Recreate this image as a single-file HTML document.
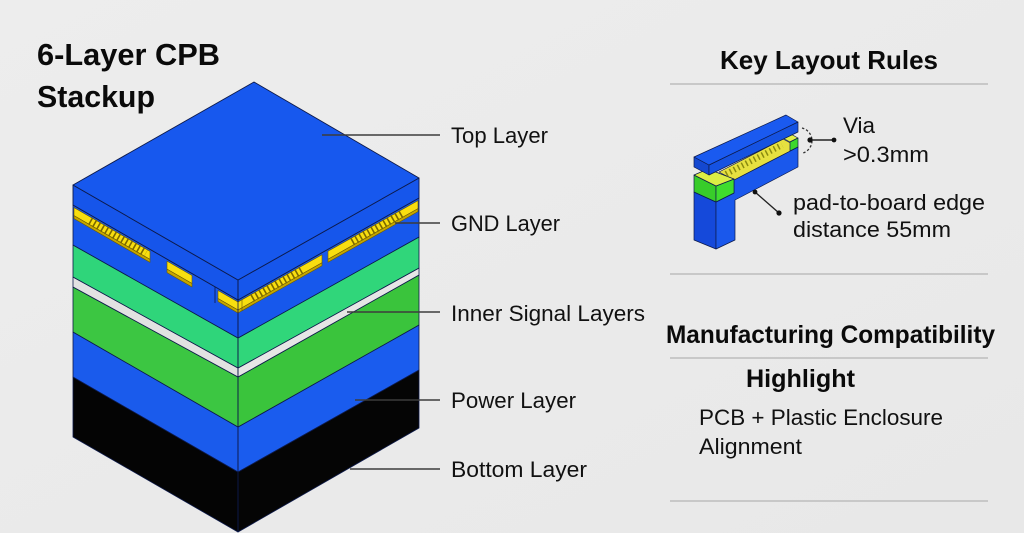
<!DOCTYPE html>
<html>
<head>
<meta charset="utf-8">
<style>
  html,body{margin:0;padding:0;background:#ebebeb;}
  body{width:1024px;height:533px;overflow:hidden;}
  svg{display:block;}
  text{font-family:"Liberation Sans",Arial,sans-serif;fill:#111;}
  .h{font-weight:bold;fill:#0a0a0a;}
</style>
</head>
<body>
<svg width="1024" height="533" viewBox="0 0 1024 533" xmlns="http://www.w3.org/2000/svg">
  <defs>
    <linearGradient id="bg" x1="0" y1="0" x2="1" y2="1">
      <stop offset="0" stop-color="#ededed"/>
      <stop offset="1" stop-color="#e8e8e8"/>
    </linearGradient>
  </defs>
  <rect x="0" y="0" width="1024" height="533" fill="url(#bg)"/>

  <!-- Title -->
  <text class="h" x="37" y="65" font-size="31" textLength="183" lengthAdjust="spacingAndGlyphs">6-Layer CPB</text>
  <text class="h" x="37" y="107" font-size="31" textLength="118" lengthAdjust="spacingAndGlyphs">Stackup</text>

  <!-- ===== Main stack ===== -->
  <g stroke="#0d1a4a" stroke-width="0.8" stroke-linejoin="round">
    <polygon points="73,377 238,472 238,532 73,437" fill="#040404"/>
    <polygon points="238,472 419,370 419,428 238,532" fill="#050505"/>
    <polygon points="73,332 238,427 238,472 73,377" fill="#1a5bec"/>
    <polygon points="238,427 419,325 419,370 238,472" fill="#1a5cee"/>
    <polygon points="73,287 238,377 238,427 73,332" fill="#3cc642"/>
    <polygon points="238,377 419,275 419,325 238,427" fill="#3ac43c"/>
    <polygon points="73,277 238,368 238,377 73,287" fill="#e2e2e2"/>
    <polygon points="238,368 419,268 419,275 238,377" fill="#e6e6e6"/>
    <polygon points="73,245 238,338 238,368 73,277" fill="#2fd57a"/>
    <polygon points="238,338 419,237 419,268 238,368" fill="#30d67a"/>
    <polygon points="73,205 238,300 238,338 73,245" fill="#1757ec"/>
    <polygon points="238,300 419,198 419,237 238,338" fill="#1758ec"/>
  </g>

  <!-- Pads (yellow) -->
  <g stroke="#6b5a00" stroke-width="0.6" stroke-linejoin="round">
    <polygon points="74,207.6 150,251.4 150,259.4 74,215.6" fill="#f8de10"/>
    <polygon points="74,215.6 150,259.4 150,262.4 74,218.6" fill="#c5a600"/>
    <polygon points="167,261.1 192,275.5 192,283.5 167,269.1" fill="#f8de10"/>
    <polygon points="167,269.1 192,283.5 192,287 167,272.6" fill="#c5a600"/>
    <polygon points="218,290.5 238,302 253,293.5 253,301.5 238,310 218,298.5" fill="#f8de10"/>
    <polygon points="218,298.5 238,310 253,301.5 253,304.5 238,313 218,301.5" fill="#c5a600"/>
    <polygon points="242,299.7 322,254.7 322,262.7 242,307.7" fill="#f8de10"/>
    <polygon points="242,307.7 322,262.7 322,265.7 242,310.7" fill="#c5a600"/>
    <polygon points="328,251.3 418,200.6 418,208.6 328,259.3" fill="#f8de10"/>
    <polygon points="328,259.3 418,208.6 418,211.6 328,262.3" fill="#c5a600"/>
  </g>
  <!-- comb teeth separators -->
  <g stroke="#7a6800" stroke-width="8" stroke-dasharray="1.6 3" fill="none">
    <line x1="90" y1="220.8" x2="146" y2="253.0"/>
    <line x1="252" y1="298.1" x2="304" y2="268.8"/>
    <line x1="352" y1="241.8" x2="402" y2="213.6"/>
  </g>
  <path d="M215,286 L215,303 M215,286 L228,293" stroke="#0d1a4a" stroke-width="0.8" fill="none"/>

  <!-- Top plate -->
  <g stroke="#0d1a4a" stroke-width="0.9" stroke-linejoin="round">
    <polygon points="73,185 238,280 238,300 73,205" fill="#1655ea"/>
    <polygon points="238,280 419,178 419,198 238,300" fill="#1656eb"/>
    <polygon points="254,82 419,178 238,280 73,185" fill="#1758ee"/>
  </g>
  <line x1="238" y1="280" x2="238" y2="532" stroke="#0d1a4a" stroke-width="0.8"/>

  <!-- Leader lines -->
  <g stroke="#3c3c3c" stroke-width="1.6">
    <line x1="322" y1="135" x2="440" y2="135"/>
    <line x1="395" y1="223" x2="440" y2="223"/>
    <line x1="347" y1="312" x2="440" y2="312"/>
    <line x1="355" y1="400" x2="440" y2="400"/>
    <line x1="350" y1="469" x2="440" y2="469"/>
  </g>

  <!-- Labels -->
  <text x="451" y="143" font-size="22" textLength="97" lengthAdjust="spacingAndGlyphs">Top Layer</text>
  <text x="451" y="231" font-size="22" textLength="109" lengthAdjust="spacingAndGlyphs">GND Layer</text>
  <text x="451" y="321" font-size="22" textLength="194" lengthAdjust="spacingAndGlyphs">Inner Signal Layers</text>
  <text x="451" y="408" font-size="22" textLength="125" lengthAdjust="spacingAndGlyphs">Power Layer</text>
  <text x="451" y="477" font-size="22" textLength="136" lengthAdjust="spacingAndGlyphs">Bottom Layer</text>

  <!-- ===== Right panel ===== -->
  <text class="h" x="720" y="69" font-size="26" textLength="218" lengthAdjust="spacingAndGlyphs">Key Layout Rules</text>
  <g stroke="#bdbdbd" stroke-width="1.5">
    <line x1="670" y1="84" x2="988" y2="84"/>
    <line x1="670" y1="274" x2="988" y2="274"/>
    <line x1="670" y1="358" x2="988" y2="358"/>
    <line x1="670" y1="501" x2="988" y2="501"/>
  </g>

  <!-- Icon -->
  <g stroke="#0d1a4a" stroke-width="0.7" stroke-linejoin="round">
    <polygon points="694,192 716,202 716,249 694,240" fill="#1549da"/>
    <polygon points="716,202 734,193 734,180 798,147 798,167 735,200 735,240 716,249" fill="#1a58ec"/>
    <polygon points="719,172 783,139 798,147 734,180" fill="#e6e040"/>
    <polygon points="781,137 789,133 798,138 790,142" fill="#e2f048"/>
    <polygon points="790,142 798,138 798,147 790,151" fill="#3cd82c"/>
    <polygon points="694,192 694,175 716,186 716,202" fill="#38cc2a"/>
    <polygon points="716,186 734,179 734,193 716,202" fill="#3fdc2e"/>
    <polygon points="694,175 708,169 734,179 716,186" fill="#dcee44"/>
  </g>
  <line x1="726" y1="174" x2="782" y2="145" stroke="#8a8a10" stroke-width="6" stroke-dasharray="1.5 3" />
  <g stroke="#0d1a4a" stroke-width="0.7" stroke-linejoin="round">
    <polygon points="694,157 709,165 709,175 694,167" fill="#1448d0"/>
    <polygon points="709,165 798,122 798,132 709,175" fill="#1552e2"/>
    <polygon points="694,157 786,115 798,122 709,165" fill="#1a5af0"/>
  </g>

  <!-- Via leader -->
  <path d="M802,128 A13 13 0 0 1 803,153" stroke="#333" stroke-width="1.3" fill="none" stroke-dasharray="2.4 2"/>
  <line x1="810" y1="140" x2="834" y2="140" stroke="#222" stroke-width="1.4"/>
  <circle cx="810" cy="140" r="2.6" fill="#111"/>
  <circle cx="834" cy="140" r="2.4" fill="#111"/>
  <line x1="755" y1="192" x2="779" y2="213" stroke="#222" stroke-width="1.4"/>
  <circle cx="755" cy="192" r="2.4" fill="#111"/>
  <circle cx="779" cy="213" r="2.6" fill="#111"/>

  <text x="843" y="133" font-size="22" textLength="32" lengthAdjust="spacingAndGlyphs">Via</text>
  <text x="843" y="162" font-size="22" textLength="86" lengthAdjust="spacingAndGlyphs">&gt;0.3mm</text>
  <text x="793" y="210" font-size="22" textLength="192" lengthAdjust="spacingAndGlyphs">pad-to-board edge</text>
  <text x="793" y="237" font-size="22" textLength="158" lengthAdjust="spacingAndGlyphs">distance 55mm</text>

  <text class="h" x="666" y="343" font-size="25" textLength="329" lengthAdjust="spacingAndGlyphs">Manufacturing Compatibility</text>
  <text class="h" x="746" y="387" font-size="25" textLength="109" lengthAdjust="spacingAndGlyphs">Highlight</text>
  <text x="699" y="425" font-size="22" textLength="244" lengthAdjust="spacingAndGlyphs">PCB + Plastic Enclosure</text>
  <text x="699" y="454" font-size="22" textLength="103" lengthAdjust="spacingAndGlyphs">Alignment</text>
</svg>
</body>
</html>
